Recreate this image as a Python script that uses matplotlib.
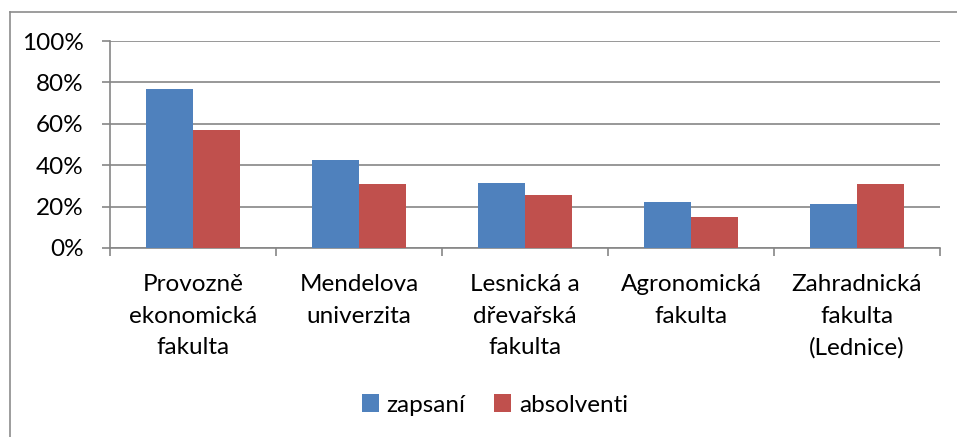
import numpy as np
import matplotlib
matplotlib.use("Agg")
import matplotlib.pyplot as plt
from matplotlib.lines import Line2D
from matplotlib.ticker import PercentFormatter

# data (percent)
categories = ["Provozně\nekonomická\nfakulta", "Mendelova\nuniverzita",
              "Lesnická a\ndřevařská\nfakulta", "Agronomická\nfakulta",
              "Zahradnická\nfakulta\n(Lednice)"]
zapsani = [76.7, 42.5, 31.6, 22.2, 21.3]
absolventi = [57.0, 30.8, 25.7, 15.1, 30.8]
y_ticks = [0, 20, 40, 60, 80, 100]

BLUE = "#4F81BD"
RED = "#C0504D"
GRID = "#868686"

plt.rcParams.update({
    "font.family": ["Lato", "DejaVu Sans"],
    "font.size": 17.5,
})

W, H = 957, 437
fig = plt.figure(figsize=(W / 100, H / 100), dpi=100)
ax = fig.add_axes([110 / W, 1 - 248 / H, (940 - 110) / W, (248 - 41) / H])

x = np.arange(len(categories))
bw = 0.286
ax.bar(x - bw / 2, zapsani, bw, color=BLUE, label="zapsaní", zorder=3)
ax.bar(x + bw / 2, absolventi, bw, color=RED, label="absolventi", zorder=3)

ax.set_xlim(-0.5, len(categories) - 0.5)
ax.set_ylim(0, 100)
ax.set_yticks(y_ticks)
ax.yaxis.set_major_formatter(PercentFormatter(decimals=0))
ax.yaxis.grid(True, color=GRID, lw=1.2, zorder=0)

# category boundaries as major ticks, labels on minor ticks
ax.set_xticks(np.arange(-0.5, len(categories), 1.0))
ax.set_xticklabels([])
ax.set_xticks(x, minor=True)
ax.set_xticklabels(categories, minor=True, linespacing=1.6)
ax.tick_params(axis="x", which="major", length=6, color=GRID, width=1.2)
ax.tick_params(axis="x", which="minor", length=0, pad=19)
ax.tick_params(axis="y", length=6, color=GRID, width=1.2, pad=13)

for s in ["top", "right"]:
    ax.spines[s].set_visible(False)
for s in ["left", "bottom"]:
    ax.spines[s].set_color(GRID)
    ax.spines[s].set_linewidth(1.2)

# outer chart border (only left and top visible in the crop)
fig.add_artist(Line2D([9.5 / W, 9.5 / W], [0, 1 - 12 / H], color="#8c8c8c", lw=1.2,
                      transform=fig.transFigure))
fig.add_artist(Line2D([9.5 / W, 1], [1 - 12 / H, 1 - 12 / H], color="#8c8c8c", lw=1.2,
                      transform=fig.transFigure))

fig.legend(loc="center", bbox_to_anchor=(495 / W, 1 - 405 / H), ncol=2, frameon=False,
           handlelength=0.7, handleheight=0.7, handletextpad=0.3, columnspacing=1.2)

fig.savefig("out.png", dpi=100)
